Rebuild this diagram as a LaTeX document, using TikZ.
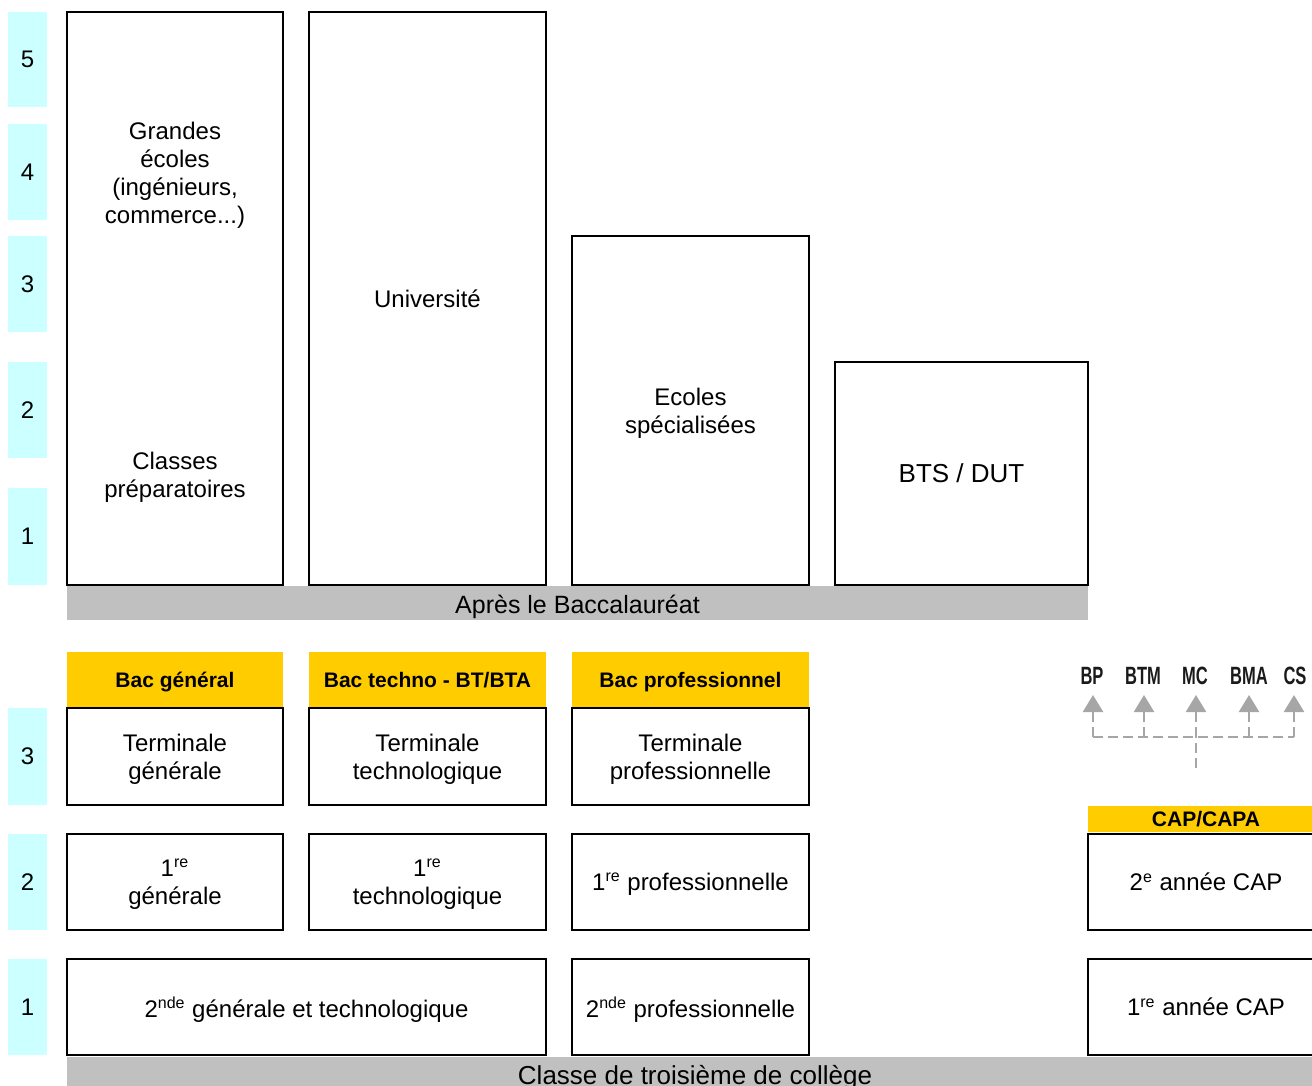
\documentclass[tikz,border=0pt]{standalone}
\usepackage{fontspec}
\setmainfont{Liberation Sans}
\usetikzlibrary{arrows.meta}
\definecolor{cy}{HTML}{CCFFFF}
\definecolor{yl}{HTML}{FFCC00}
\definecolor{gr}{HTML}{C0C0C0}
\definecolor{ag}{HTML}{A6A6A6}
\definecolor{lbl}{HTML}{1A1A1A}
\newcommand\supx[1]{\textsuperscript{#1}}
\newcommand\cnd[1]{\scalebox{0.66}[1]{#1}}
\begin{document}
\begin{tikzpicture}[x=0.5pt,y=-0.5pt,
 numbox/.style={fill=cy, inner sep=0, outer sep=0, minimum width=19.5pt, font=\fontsize{12}{14}\selectfont},
 box/.style={draw, line width=1pt, fill=white, inner sep=0, outer sep=0, align=center, text depth=0pt, font=\fontsize{12}{14}\selectfont},
 hdr/.style={fill=yl, inner sep=0, outer sep=0, text depth=0pt, font=\bfseries\fontsize{10.5}{12}\selectfont},
 bar/.style={fill=gr, inner sep=0, outer sep=0},
 txt/.style={align=center, font=\fontsize{12}{14}\selectfont, inner sep=0},
 cond/.style={font=\bfseries\fontsize{12.5}{14}\selectfont, inner sep=0, text=lbl},
 dsh/.style={draw=ag, line width=1.2pt, dash pattern=on 5pt off 2.5pt},
 tip/.style={-{Triangle[width=10pt,length=8.5pt]}}
]
\useasboundingbox (0,0) rectangle (1312,1086);

% level numbers
\node[numbox, minimum height=47.5pt] (n5) at (27.5,59.5) {5};
\node[numbox, minimum height=48pt] (n4) at (27.5,172) {4};
\node[numbox, minimum height=48pt] (n3) at (27.5,284) {3};
\node[numbox, minimum height=48pt] (n2) at (27.5,410) {2};
\node[numbox, minimum height=48.5pt] (n1) at (27.5,536.5) {1};
\node[numbox, minimum height=48.5pt] (m3) at (27.5,756.5) {3};
\node[numbox, minimum height=48pt] (m2) at (27.5,882) {2};
\node[numbox, minimum height=48pt] (m1) at (27.5,1007) {1};

% higher education
\node[box, minimum width=108pt, minimum height=286.5pt] (ge) at (175,298.5) {};
\node[txt] (getxt) at (175,175) {Grandes\\écoles\\(ingénieurs,\\commerce...)};
\node[txt] (cptxt) at (175,477) {Classes\\préparatoires};
\node[box, minimum width=118.5pt, minimum height=286.5pt] (univ) at (427.5,298.5) {Université};
\node[box, minimum width=118.5pt, minimum height=174.5pt] (ecol) at (690.5,410.5) {Ecoles\\spécialisées};
\node[box, minimum width=126.5pt, minimum height=111.5pt, font=\fontsize{13}{15}\selectfont] (bts) at (961.5,473.5) {BTS / DUT};
\node[bar, minimum width=510.5pt, minimum height=17pt] (bar1) at (577.5,603) {};
\node[txt, font=\fontsize{12.5}{14}\selectfont] (bar1t) at (577.5,607) {Après le Baccalauréat};

% headers
\node[hdr, minimum width=108pt, minimum height=28pt] (h1) at (175,680) {Bac général};
\node[hdr, minimum width=118.5pt, minimum height=28pt] (h2) at (427.5,680) {Bac techno - BT/BTA};
\node[hdr, minimum width=118.5pt, minimum height=28pt] (h3) at (690.5,680) {Bac professionnel};

% row 3
\node[box, minimum width=108pt, minimum height=48.5pt] (t1) at (175,756.5) {Terminale\\générale};
\node[box, minimum width=118.5pt, minimum height=48.5pt] (t2) at (427.5,756.5) {Terminale\\technologique};
\node[box, minimum width=118.5pt, minimum height=48.5pt] (t3) at (690.5,756.5) {Terminale\\professionnelle};

% row 2
\node[box, minimum width=108pt, minimum height=48pt] (p1) at (175,882) {1\supx{re}\\générale};
\node[box, minimum width=118.5pt, minimum height=48pt] (p2) at (427.5,882) {1\supx{re}\\technologique};
\node[box, minimum width=118.5pt, minimum height=48pt] (p3) at (690.5,882) {1\supx{re} professionnelle};

% row 1
\node[box, minimum width=239.5pt, minimum height=48pt] (s1) at (306.5,1007) {2\supx{nde} générale et technologique};
\node[box, minimum width=118.5pt, minimum height=48pt] (s3) at (690.5,1007) {2\supx{nde} professionnelle};

% CAP
\node[hdr, minimum width=118pt, minimum height=13pt] (hc) at (1206,819) {CAP/CAPA};
\node[box, minimum width=118pt, minimum height=48pt] (c2) at (1206,882) {2\supx{e} année CAP};
\node[box, minimum width=118pt, minimum height=48pt] (c1) at (1206,1007) {1\supx{re} année CAP};

% bottom bar
\node[bar, minimum width=628.5pt, minimum height=26.5pt] (bar2) at (695.5,1083.5) {};
\node[txt, font=\fontsize{13}{15}\selectfont] (bar2t) at (695,1078) {Classe de troisième de collège};

% other diplomas
\node[cond] (bp) at (1092,676) {\cnd{BP}};
\node[cond] (btm) at (1143,676) {\cnd{BTM}};
\node[cond] (mc) at (1195,676) {\cnd{MC}};
\node[cond] (bma) at (1249,676) {\cnd{BMA}};
\node[cond] (cs) at (1295,676) {\cnd{CS}};
\coordinate (hub) at (1196,768);
\coordinate (j) at (1196,737);
\coordinate (jl) at (1093,737);
\coordinate (jr) at (1294,737);
\coordinate (tbp) at (1093,695);
\coordinate (tbtm) at (1144,695);
\coordinate (tmc) at (1196,695);
\coordinate (tbma) at (1249,695);
\coordinate (tcs) at (1294,695);
\draw[dsh] (hub) -- (j);
\draw[dsh] (jl) -- (jr);
\draw[dsh, tip] (jl) -- (tbp);
\draw[dsh, tip] (1144,737) -- (tbtm);
\draw[dsh, tip] (j) -- (tmc);
\draw[dsh, tip] (1249,737) -- (tbma);
\draw[dsh, tip] (jr) -- (tcs);
\end{tikzpicture}
\end{document}
